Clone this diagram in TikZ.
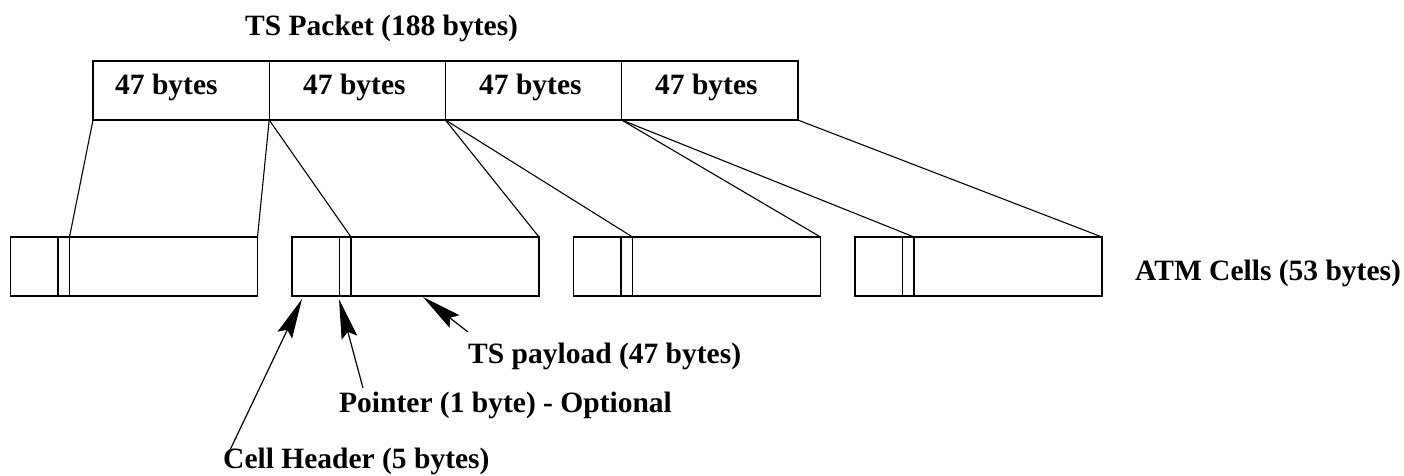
\documentclass[tikz,border=0pt]{standalone}
\usepackage{fontspec}
\setmainfont{Liberation Serif}
\usetikzlibrary{arrows.meta}
\begin{document}
\begin{tikzpicture}[x=1pt,y=-1pt,
  seg/.style={draw, line width=1.4pt, outer sep=0pt, inner sep=0pt, minimum height=59pt, anchor=north west},
  lbl/.style={anchor=base west, inner sep=0pt, font=\fontsize{29.5}{34}\selectfont\bfseries},
  conn/.style={line width=1.1pt},
  callout/.style={line width=1.2pt, arrows={-Stealth[length=40pt, width=16pt, inset=6pt]}}]
\useasboundingbox (0,0) rectangle (1404,475);
% TS packet
\node[lbl] (title) at (245,35) {TS Packet (188 bytes)};
\foreach \i in {1,...,4} {
  \node[seg, minimum width=176.2pt] (p\i) at ({93+176.2*(\i-1)},61) {};
}
\node[lbl] (t1) at (115,94) {47 bytes};
\node[lbl] (t2) at (303,94) {47 bytes};
\node[lbl] (t3) at (479,94) {47 bytes};
\node[lbl] (t4) at (655,94) {47 bytes};
% ATM cells
\foreach \i in {1,...,4} {
  \node[seg, minimum width=47.5pt] (h\i) at ({10.5+281.5*(\i-1)},237) {};
  \node[seg, minimum width=11.5pt] (q\i) at (h\i.north east) {};
  \node[seg, minimum width=188pt] (d\i) at (q\i.north east) {};
}
\node[lbl] (atm) at (1135,280) {ATM Cells (53 bytes)};
% connectors
\draw[conn] (p1.south west) -- (q1.north east);
\draw[conn] (p1.south east) -- (d1.north east);
\draw[conn] (p2.south west) -- (q2.north east);
\draw[conn] (p2.south east) -- (d2.north east);
\draw[conn] (p3.south west) -- (q3.north east);
\draw[conn] (p3.south east) -- (d3.north east);
\draw[conn] (p4.south west) -- (q4.north east);
\draw[conn] (p4.south east) -- (d4.north east);
% annotations
\node[lbl] (pay) at (468,363) {TS payload (47 bytes)};
\node[lbl] (ptr) at (339,412) {Pointer (1 byte) - Optional};
\node[lbl] (hdr) at (223,468) {Cell Header (5 bytes)};
\coordinate (payA) at (468,332);
\coordinate (ptrA) at (363,388);
\coordinate (hdrA) at (230,450);
\coordinate (payT) at (423,297);
\coordinate (ptrT) at (339,299);
\coordinate (hdrT) at (302,299);
\draw[callout] (payA) -- (payT);
\draw[callout] (ptrA) -- (ptrT);
\draw[callout] (hdrA) -- (hdrT);
\end{tikzpicture}
\end{document}
